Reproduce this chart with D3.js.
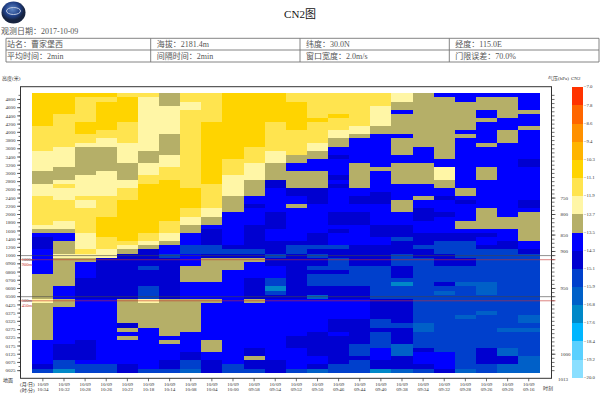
<!DOCTYPE html>
<html>
<head>
<meta charset="utf-8">
<title>CN2图</title>
<script src="https://cdn.jsdelivr.net/npm/d3@7"></script>
<style>
  html, body { margin: 0; padding: 0; background: #fff; }
  svg { display: block; }
  text { font-family: "Liberation Serif", "Noto Sans CJK SC", serif; }
</style>
</head>
<body>
<div id="chart"></div>
<script>

//##########################  DATA  #####################
var times = ['10:34', '10:32', '10:28', '10:26', '10:22', '10:18', '10:14', '10:08', '10:04', '10:00', '09:58', '09:54',
  '09:52', '09:50', '09:46', '09:44', '09:40', '09:38', '09:34', '09:32', '09:28', '09:26', '09:20', '09:16'];

// heights in metres, top to bottom
var heights = [4900, 4800, 4700, 4600, 4500, 4400, 4300, 4200, 4100, 4000, 3900, 3800, 3700, 3600, 3500, 3400, 3300, 3200, 3100, 3000,
  2900, 2800, 2700, 2600, 2500, 2400, 2300, 2200, 2100, 2000, 1900, 1800, 1700, 1600, 1500, 1400, 1300, 1200, 1100, 1000,
  950, 900, 850, 800, 750, 700, 650, 600, 550, 500, 450,
  425, 400, 375, 350, 325, 300, 275, 250, 225, 200, 175, 150, 125, 100, 75, 50, 25];

var heightTicks = [4800, 4600, 4400, 4200, 4000, 3800, 3600, 3400, 3200, 3000, 2800, 2600, 2400, 2200, 2000, 1800, 1600, 1400, 1200, 1000,
  900, 800, 700, 600, 500, 425, 375, 325, 275, 225, 175, 125, 75, 25];

var pressureLabels = [750, 800, 850, 900, 950, 1000];
var pressureHeights = [2400, 2000, 1500, 1100, 600, 125];

var legendValues = [-20.0, -19.2, -18.4, -17.6, -16.8, -15.9, -15.1, -14.3, -13.5, -12.7, -11.9, -11.1, -10.3, -9.4, -8.6, -7.8, -7.0];
var legendColors = ['#8adfff', '#5ad0ff', '#00b6ff', '#0088c8', '#0060c8', '#0040cc', '#0000d0', '#0000ff',
  '#b5af68', '#fff6a6', '#ffe44f', '#ffd400', '#ffb400', '#ff9000', '#ff6600', '#ff3300'];

// CN2 value of each code used in the columns below
var cn2Codes = { A: -10.7, B: -11.5, C: -12.3, D: -13.1, E: -13.9, F: -14.7, G: -15.5, H: -16.3, I: -17.2 };

// one string per time: code + row where that run stops, top to bottom
var cn2Columns = [
  'A8 B14 C19 D22 C25 B32 C33 D34 E35 F38 E44 D50 C51 D60 E66 F67 G68',
  'A5 B13 C18 D21 C22 B23 C26 B31 C33 D34 E36 D39 C40 D47 E50 D52 E61 F65 G67 I68',
  'A1 B7 A10 B12 C13 D20 C25 B26 C28 B34 C38 B39 C40 D41 E45 F50 E60 F65 E66 G68',
  'A1 B2 A9 B11 C13 D19 C25 B30 A35 B38 C40 F50 E66 G68',
  'B1 A7 B12 C17 D21 C23 B26 A36 B37 C38 D39 F50 D56 F57 D58 E59 D60 E66 F68',
  'B1 C14 D17 C20 B22 A34 B36 C37 D38 F42 G43 F47 G50 C51 D57 E67 G68',
  'D3 C10 D15 C18 B21 A31 B34 C36 D37 E39 G40 F50 D59 E60 D61 E65 F67 G68',
  'B2 C4 B23 A28 B30 C32 D34 E37 G39 E42 D46 E50 D58 E63 F65 G67 H68',
  'B7 A22 B28 C30 D32 E33 F37 G39 F40 D46 E50 D51 E60 D63 E65 F68',
  'A16 B20 C25 D29 E37 F38 G39 F40 D43 E66 G68',
  'A13 B17 C21 D25 E27 F28 E32 F38 G39 F40 D41 E45 F50 D51 E62 F64 D65 F67 G68',
  'A7 B14 C17 D21 F23 E29 F33 E36 F39 G40 F42 E45 G47 I48 G49 F50 E65 F68',
  'B2 A9 B15 D17 E19 D23 F25 E27 D28 E36 F37 G39 F50 E59 F62 E67 G68',
  'B6 A7 B12 C14 D16 E19 D23 F27 E34 F37 G38 F39 G40 F42 G43 F44 G47 F49 H50 E58 F64 E66 F67 H68',
  'B5 A6 B9 C11 D13 E15 F16 E20 F21 E22 F23 E29 F32 E33 F34 E37 G38 F40 G43 F44 G47 F50 E55 F58 E59 F66 G68',
  'B8 C10 D11 E17 D23 E25 F27 E29 F32 E37 F42 G47 F50 E55 F61 G64 F65 G68',
  'B3 C8 D10 E18 D19 E24 F27 E32 F35 E37 F42 G50 F55 G57 F58 G62 E65 F67 I68',
  'C2 D4 E5 D10 E11 D15 E17 D22 E26 D29 E32 F35 G36 F39 G42 F45 G46 I47 G50 F56 G57 F61 H64 F67 H68',
  'D13 E17 D22 E25 D26 E28 F31 E34 F37 G38 F40 G56 H58 G62 F63 E66 F67 G68',
  'E1 D16 E18 C21 D23 E25 F26 E29 F30 E34 F36 G39 F42 G46 F47 G48 H49 G63 E67 F68',
  'E2 D9 E10 D11 E23 D25 E26 F27 E31 D33 E34 F36 G40 F42 G46 H47 G54 H55 G67 H68',
  'E1 D4 E6 D7 E12 D13 E18 D21 E28 D33 E34 F35 E37 F38 G46 H49 G53 H54 G62 F66 G68',
  'E1 D6 E9 D12 E30 D33 E36 F38 G57 H58 G62 H64 F66 H68',
  'E4 D5 E8 D9 E16 F18 E26 F28 E29 D36 E38 F39 G54 H56 G57 H58 G64 H68'
];

var infoRows = [
  ['站名：曹家堡西', '海拔：2181.4m', '纬度：30.0N', '经度：115.0E'],
  ['平均时间：2min', '间隔时间：2min', '窗口宽度：2.0m/s', '门限误差：70.0%']
];

var markLines = [
  { height: 1000, label: '1000m', color: '#444444', dy: 5 },
  { height: 950, label: '900m', color: '#c8322d', dy: 6 },
  { height: 500, label: '500m', color: '#444444', dy: 5.5 },
  { height: 450, label: '450m', color: '#c8322d', dy: 6 }
];

//##########################  LAYOUT  #####################
var attrs = {
  svgWidth: 600,
  svgHeight: 394,
  frameLeft: 20.5,
  frameRight: 551.5,
  frameTop: 86.7,
  frameBottom: 378.3,
  plotLeft: 32.3,
  plotRight: 539.3,
  plotTop: 93.3,
  plotBottom: 372.7,
  legendLeft: 571.7,
  legendRight: 583.3
};

//##########################  SCALES  #####################
var scales = {};
scales.x = d3.scaleBand().domain(times).range([attrs.plotLeft, attrs.plotRight]);
scales.y = d3.scaleBand().domain(heights).range([attrs.plotTop, attrs.plotBottom]);
scales.color = d3.scaleThreshold().domain(legendValues.slice(1, -1)).range(legendColors);
// legend swatches are evenly spaced in the original, so use their rank
scales.legendRank = d3.scaleBand().domain(legendColors).range([attrs.frameBottom - 1, attrs.frameTop]);

function yMid(h) { return scales.y(h) + scales.y.bandwidth() / 2; }

// expand run strings into cells
var cells = [];
cn2Columns.forEach(function (col, i) {
  var start = 0;
  col.split(' ').forEach(function (run) {
    var stop = +run.slice(1);
    d3.range(start, stop).forEach(function (r) {
      cells.push({ time: times[i], height: heights[r], value: cn2Codes[run[0]] });
    });
    start = stop;
  });
});

//#######################  DRAWING ######################
var svg = d3.select('#chart').append('svg')
  .attr('width', attrs.svgWidth)
  .attr('height', attrs.svgHeight);

// logo
var grad = svg.append('defs').append('radialGradient').attr('id', 'logo').attr('cx', '45%').attr('cy', '35%');
grad.append('stop').attr('offset', '0%').attr('stop-color', '#5f86c4');
grad.append('stop').attr('offset', '65%').attr('stop-color', '#1f3f86');
grad.append('stop').attr('offset', '100%').attr('stop-color', '#16233f');
svg.append('ellipse').attr('cx', 13.5).attr('cy', 12.5).attr('rx', 12).attr('ry', 11)
  .attr('fill', 'url(#logo)');
svg.append('ellipse').attr('cx', 13.5).attr('cy', 11).attr('rx', 7).attr('ry', 3.5)
  .attr('fill', 'none').attr('stroke', '#c9d3e4').attr('stroke-width', 0.9);

// title
svg.append('text').attr('x', 300).attr('y', 17.5).attr('text-anchor', 'middle')
  .attr('font-size', 11).attr('fill', '#111').text('CN2图');

svg.append('text').attr('x', 1).attr('y', 33.5).attr('font-size', 8).attr('fill', '#555').text('观测日期：2017-10-09');

// info table
var tableX = [6, 150.7, 300, 449.3, 599];
var tableY = [38.3, 50, 62];
var table = svg.append('g').attr('class', 'info-table').attr('stroke', '#777').attr('stroke-width', 0.9);
tableY.forEach(function (y) {
  table.append('line').attr('x1', tableX[0]).attr('x2', tableX[4]).attr('y1', y).attr('y2', y);
});
tableX.forEach(function (x) {
  table.append('line').attr('x1', x).attr('x2', x).attr('y1', tableY[0]).attr('y2', tableY[2]);
});
infoRows.forEach(function (row, r) {
  row.forEach(function (d, c) {
    svg.append('text').attr('x', tableX[c] + 1 + (c ? 5 : 0)).attr('y', tableY[r] + 9)
      .attr('font-size', 8).attr('fill', '#555').text(d);
  });
});

// heat cells
svg.append('g').attr('class', 'cells').attr('shape-rendering', 'crispEdges')
  .selectAll('rect').data(cells).enter().append('rect')
  .attr('x', function (d) { return scales.x(d.time); })
  .attr('y', function (d) { return scales.y(d.height); })
  .attr('width', scales.x.bandwidth() + 0.5)
  .attr('height', scales.y.bandwidth() + 0.5)
  .attr('fill', function (d) { return scales.color(d.value); });

// frame
svg.append('rect').attr('x', attrs.frameLeft).attr('y', attrs.frameTop)
  .attr('width', attrs.frameRight - attrs.frameLeft).attr('height', attrs.frameBottom - attrs.frameTop)
  .attr('fill', 'none').attr('stroke', '#333').attr('stroke-width', 1);

// left axis, minor ticks on every row
function styleAxis(g) {
  g.select('.domain').remove();
  g.selectAll('line').attr('stroke', '#333').attr('stroke-width', 0.7);
  g.selectAll('text').attr('font-size', 5).attr('fill', '#333');
}

svg.append('g').attr('transform', 'translate(' + attrs.frameLeft + ',0)')
  .call(d3.axisLeft(scales.y).tickValues(heights).tickSize(2).tickFormat(''))
  .call(styleAxis);
svg.append('g').attr('transform', 'translate(' + attrs.frameLeft + ',0)')
  .call(d3.axisLeft(scales.y).tickValues(heightTicks).tickSize(3.5).tickPadding(1.5)
    .tickFormat(function (d) { return d3.format('04d')(d); }))
  .call(styleAxis);

// right axis, pressure
var pressureScale = d3.scaleOrdinal().domain(pressureHeights).range(pressureLabels);
svg.append('g').attr('transform', 'translate(' + attrs.frameRight + ',0)')
  .call(d3.axisRight(scales.y).tickValues(heights).tickSize(3).tickFormat(''))
  .call(styleAxis);
svg.append('g').attr('transform', 'translate(' + attrs.frameRight + ',0)')
  .call(d3.axisRight(scales.y).tickValues(pressureHeights).tickSize(4).tickPadding(5)
    .tickFormat(function (d) { return pressureScale(d); }))
  .call(styleAxis);

// bottom axis, two line labels
var bottomAxis = svg.append('g').attr('transform', 'translate(0,' + attrs.frameBottom + ')')
  .call(d3.axisBottom(scales.x).tickSize(3).tickPadding(1.5).tickFormat(function () { return '10/09'; }))
  .call(styleAxis);
bottomAxis.selectAll('.tick').append('text')
  .attr('y', 12.5).attr('fill', '#333').attr('font-size', 5).attr('text-anchor', 'middle')
  .text(function (d) { return d; });

// mark lines
markLines.forEach(function (d) {
  svg.append('line').attr('x1', attrs.frameLeft).attr('x2', attrs.frameRight + 4)
    .attr('y1', yMid(d.height)).attr('y2', yMid(d.height))
    .attr('stroke', d.color).attr('stroke-width', 0.6);
  svg.append('text').attr('x', attrs.plotLeft - 10.5).attr('y', yMid(d.height) + d.dy)
    .attr('font-size', 4.5).attr('fill', d.color).text(d.label);
});

// small labels
var labels = [
  { x: 2, y: 80, text: '高度(米)' },
  { x: 3, y: 381.5, text: '地面' },
  { x: 20, y: 385.5, text: '(月/日)' },
  { x: 20, y: 392, text: '(时:分)' },
  { x: 543, y: 390, text: '时刻' },
  { x: 548, y: 80, text: '气压(hPa)' },
  { x: 571, y: 80, text: 'CN2' },
  { x: 558, y: 381, text: '1013' }
];
svg.append('g').selectAll('text').data(labels).enter().append('text')
  .attr('x', function (d) { return d.x; })
  .attr('y', function (d) { return d.y; })
  .attr('font-size', 5).attr('fill', '#333')
  .text(function (d) { return d.text; });

// legend
svg.append('g').attr('shape-rendering', 'crispEdges')
  .selectAll('rect').data(legendColors).enter().append('rect')
  .attr('x', attrs.legendLeft)
  .attr('y', function (d) { return scales.legendRank(d); })
  .attr('width', attrs.legendRight - attrs.legendLeft)
  .attr('height', scales.legendRank.bandwidth() + 0.5)
  .attr('fill', function (d) { return d; });

var legendLabel = d3.scaleBand().domain(legendValues).range([attrs.frameBottom + 8, attrs.frameTop - 9]);
svg.append('g').selectAll('text').data(legendValues).enter().append('text')
  .attr('x', attrs.legendRight + 0.5)
  .attr('y', function (d) { return legendLabel(d) + legendLabel.bandwidth() / 2 + 1.7; })
  .attr('font-size', 4.8).attr('fill', '#333')
  .text(function (d) { return d3.format('.1f')(d); });

</script>
</body>
</html>
